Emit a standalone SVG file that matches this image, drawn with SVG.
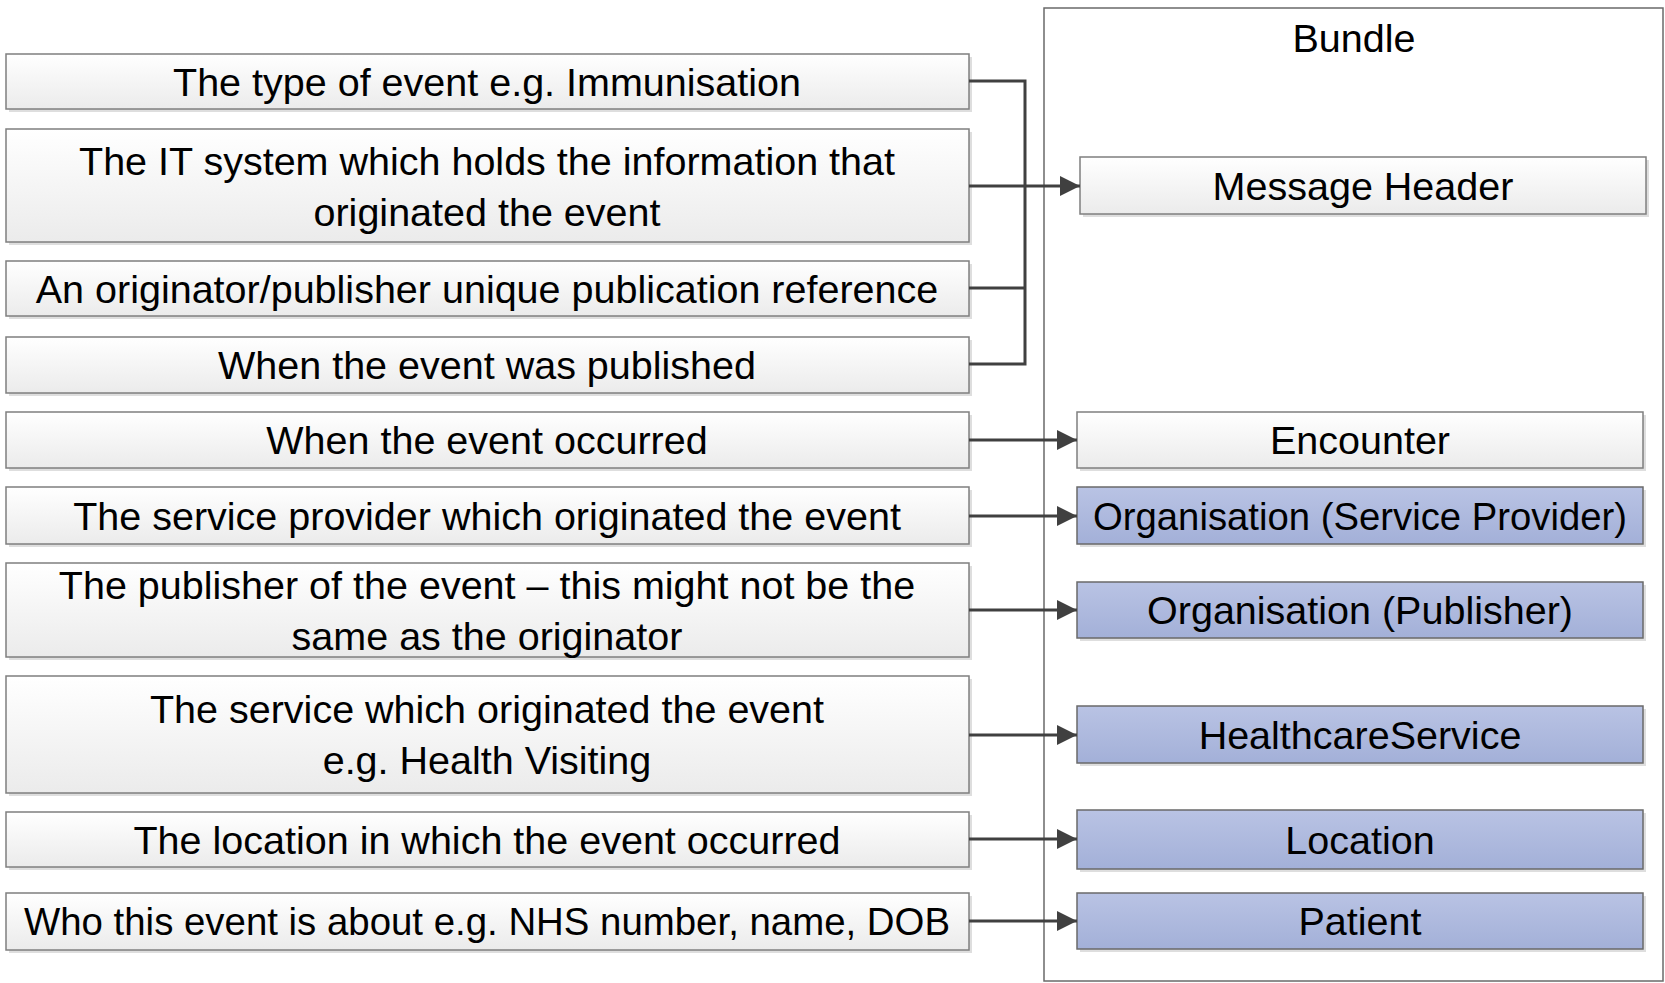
<svg xmlns="http://www.w3.org/2000/svg" width="1665" height="983" viewBox="0 0 1665 983">
<defs>
<linearGradient id="gGray" x1="0" y1="0" x2="0" y2="1">
<stop offset="0" stop-color="#ffffff"/>
<stop offset="1" stop-color="#ebebeb"/>
</linearGradient>
<linearGradient id="gBlue" x1="0" y1="0" x2="0" y2="1">
<stop offset="0" stop-color="#b9c3e4"/>
<stop offset="1" stop-color="#a3b0d8"/>
</linearGradient>
<marker id="arrow" markerUnits="userSpaceOnUse" markerWidth="20" markerHeight="20" refX="18" refY="9" orient="auto" viewBox="0 0 18 18">
<path d="M0,0 L18,9 L0,18 Z" fill="#404040"/>
</marker>
</defs>
<style>
.shadow{fill:#dedede;stroke:none}
.gray{fill:url(#gGray);stroke:#7f7f7f;stroke-width:1.5}
.blue{fill:url(#gBlue);stroke:#6a6a6a;stroke-width:1.5}
.t{font-family:"Liberation Sans",Arial,sans-serif;font-size:39.5px;fill:#000;text-anchor:middle}
.c{fill:none;stroke:#404040;stroke-width:3}
</style>
<rect width="1665" height="983" fill="#ffffff"/>

<g id="bundle">
<rect x="1044" y="8" width="619" height="973" fill="none" stroke="#6a6a6a" stroke-width="1.5"/>
<text class="t" x="1354" y="52">Bundle</text>
</g>

<g id="n1">
<rect class="shadow" x="9" y="57" width="963" height="55"/>
<rect class="gray" x="6" y="54" width="963" height="55"/>
<text class="t" x="487" y="95.5">The type of event e.g. Immunisation</text>
</g>
<g id="n2">
<rect class="shadow" x="9" y="132" width="963" height="113"/>
<rect class="gray" x="6" y="129" width="963" height="113"/>
<text class="t" x="487" y="174.5">The IT system which holds the information that</text>
<text class="t" x="487" y="225.5">originated the event</text>
</g>
<g id="n3">
<rect class="shadow" x="9" y="264" width="963" height="55"/>
<rect class="gray" x="6" y="261" width="963" height="55"/>
<text class="t" x="487" y="302.5">An originator/publisher unique publication reference</text>
</g>
<g id="n4">
<rect class="shadow" x="9" y="340" width="963" height="56"/>
<rect class="gray" x="6" y="337" width="963" height="56"/>
<text class="t" x="487" y="379">When the event was published</text>
</g>
<g id="n5">
<rect class="shadow" x="9" y="415" width="963" height="56"/>
<rect class="gray" x="6" y="412" width="963" height="56"/>
<text class="t" x="487" y="454">When the event occurred</text>
</g>
<g id="n6">
<rect class="shadow" x="9" y="490" width="963" height="57"/>
<rect class="gray" x="6" y="487" width="963" height="57"/>
<text class="t" x="487" y="529.5">The service provider which originated the event</text>
</g>
<g id="n7">
<rect class="shadow" x="9" y="566" width="963" height="94"/>
<rect class="gray" x="6" y="563" width="963" height="94"/>
<text class="t" x="487" y="599">The publisher of the event – this might not be the</text>
<text class="t" x="487" y="650">same as the originator</text>
</g>
<g id="n8">
<rect class="shadow" x="9" y="679" width="963" height="117"/>
<rect class="gray" x="6" y="676" width="963" height="117"/>
<text class="t" x="487" y="723">The service which originated the event</text>
<text class="t" x="487" y="774">e.g. Health Visiting</text>
</g>
<g id="n9">
<rect class="shadow" x="9" y="815" width="963" height="55"/>
<rect class="gray" x="6" y="812" width="963" height="55"/>
<text class="t" x="487" y="853.5">The location in which the event occurred</text>
</g>
<g id="n10">
<rect class="shadow" x="9" y="896" width="963" height="57"/>
<rect class="gray" x="6" y="893" width="963" height="57"/>
<text class="t" x="487" y="935" textLength="926" lengthAdjust="spacingAndGlyphs">Who this event is about e.g. NHS number, name, DOB</text>
</g>

<g id="messageHeader">
<rect class="shadow" x="1083" y="160" width="566" height="57"/>
<rect class="gray" x="1080" y="157" width="566" height="57"/>
<text class="t" x="1363" y="200">Message Header</text>
</g>
<g id="encounter">
<rect class="shadow" x="1080" y="415" width="566" height="56"/>
<rect class="gray" x="1077" y="412" width="566" height="56"/>
<text class="t" x="1360" y="454">Encounter</text>
</g>
<g id="orgServiceProvider">
<rect class="shadow" x="1080" y="490" width="566" height="57"/>
<rect class="blue" x="1077" y="487" width="566" height="57"/>
<text class="t" x="1360" y="529.5" textLength="534" lengthAdjust="spacingAndGlyphs">Organisation (Service Provider)</text>
</g>
<g id="orgPublisher">
<rect class="shadow" x="1080" y="585" width="566" height="56"/>
<rect class="blue" x="1077" y="582" width="566" height="56"/>
<text class="t" x="1360" y="624">Organisation (Publisher)</text>
</g>
<g id="healthcareService">
<rect class="shadow" x="1080" y="709" width="566" height="57"/>
<rect class="blue" x="1077" y="706" width="566" height="57"/>
<text class="t" x="1360" y="748.5">HealthcareService</text>
</g>
<g id="location">
<rect class="shadow" x="1080" y="813" width="566" height="59"/>
<rect class="blue" x="1077" y="810" width="566" height="59"/>
<text class="t" x="1360" y="853.5">Location</text>
</g>
<g id="patient">
<rect class="shadow" x="1080" y="896" width="566" height="56"/>
<rect class="blue" x="1077" y="893" width="566" height="56"/>
<text class="t" x="1360" y="935">Patient</text>
</g>

<g id="connectors">
<polyline class="c" points="969,81 1025,81 1025,364 969,364"/>
<line class="c" x1="969" y1="288" x2="1025" y2="288"/>
<line class="c" x1="969" y1="186" x2="1080" y2="186" marker-end="url(#arrow)"/>
<line class="c" x1="969" y1="440" x2="1077" y2="440" marker-end="url(#arrow)"/>
<line class="c" x1="969" y1="516" x2="1077" y2="516" marker-end="url(#arrow)"/>
<line class="c" x1="969" y1="610" x2="1077" y2="610" marker-end="url(#arrow)"/>
<line class="c" x1="969" y1="735" x2="1077" y2="735" marker-end="url(#arrow)"/>
<line class="c" x1="969" y1="839" x2="1077" y2="839" marker-end="url(#arrow)"/>
<line class="c" x1="969" y1="921" x2="1077" y2="921" marker-end="url(#arrow)"/>
</g>
</svg>
